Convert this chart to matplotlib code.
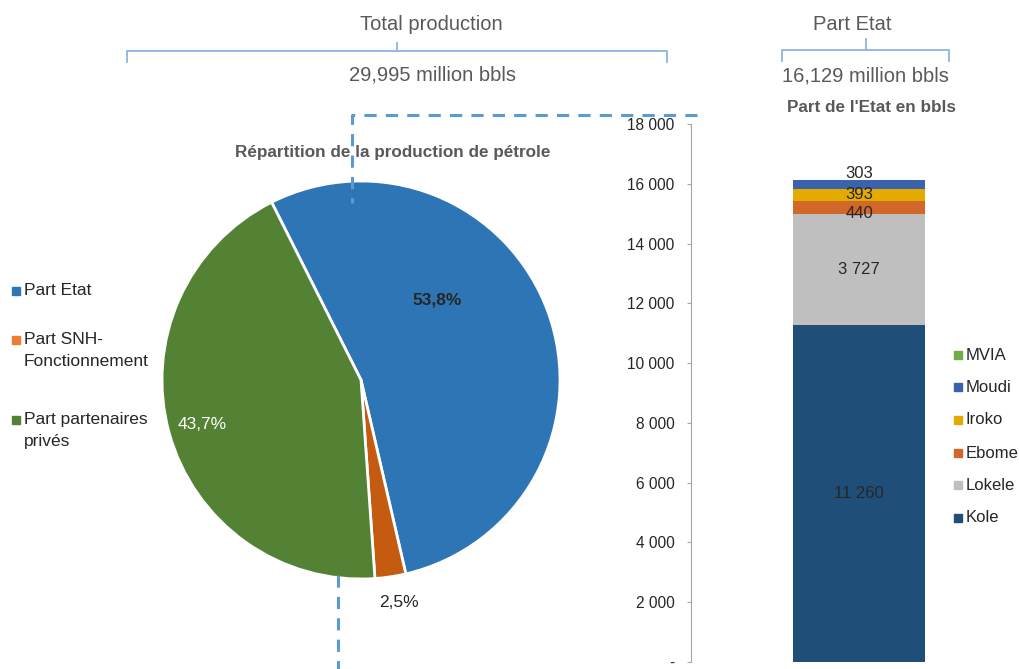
import numpy as np
import matplotlib.pyplot as plt

plt.rcParams['font.family'] = ['Liberation Sans', 'DejaVu Sans']

# Pie: répartition de la production (%)
pie_labels = ['Part Etat', 'Part SNH-\nFonctionnement', 'Part partenaires\nprivés']
pie_shares = [53.8, 2.5, 43.7]
pie_colors = ['#2E75B6', '#C55A11', '#548235']
pie_legend_colors = ['#2E75B6', '#ED7D31', '#548235']

# Stacked bar: part de l'Etat par champ (bbls)
fields = ['Kole', 'Lokele', 'Ebome', 'Iroko', 'Moudi', 'MVIA']
field_bbls = [11260, 3727, 440, 393, 303, 6]
field_colors = ['#1F4E79', '#BFBFBF', '#D2672A', '#E3AA00', '#3A63AE', '#70AD47']
yticks = np.arange(0, 18001, 2000)

W, H = 1020, 669
fig = plt.figure(figsize=(W / 100, H / 100), dpi=100)


def px_axes(x0, y0, x1, y1, **kw):
    return fig.add_axes([x0 / W, 1 - y1 / H, (x1 - x0) / W, (y1 - y0) / H], **kw)


TXT = '#595959'
DARK = '#262626'

# ---- pie
ax_pie = px_axes(162, 181, 560, 579)
ax_pie.pie(pie_shares, colors=pie_colors, startangle=116.7, counterclock=False,
           wedgeprops=dict(edgecolor='white', linewidth=2))
ax_pie.set_xlim(-1, 1)
ax_pie.set_ylim(-1, 1)
ax_pie.set_aspect('auto')
pct = [f'{v:.1f}%'.replace('.', ',') for v in pie_shares]
ax_pie.text(0.38, 0.40, pct[0], ha='center', va='center', fontsize=12.5,
            fontweight='bold', color=DARK)
ax_pie.text(0.19, -1.12, pct[1], ha='center', va='center', fontsize=12.5, color=DARK)
ax_pie.text(-0.80, -0.226, pct[2], ha='center', va='center', fontsize=12.5, color='white')

# ---- stacked bar
ax_bar = px_axes(691, 124, 940, 662)
bottom = 0
label_shift = {'Ebome': -210, 'Iroko': 10, 'Moudi': 360}
for name, val, col in zip(fields, field_bbls, field_colors):
    ax_bar.bar(0.675, val, width=0.53, bottom=bottom, color=col)
    if val > 100:
        ax_bar.text(0.675, bottom + val / 2 + label_shift.get(name, 0),
                    f'{val:,}'.replace(',', ' '), ha='center', va='center',
                    fontsize=12, color=DARK)
    bottom += val
ax_bar.set_xlim(0, 1)
ax_bar.set_ylim(0, 18000)
ax_bar.set_yticks(yticks)
ax_bar.set_yticklabels(['-' if t == 0 else f'{t:,}'.replace(',', ' ') for t in yticks])
ax_bar.set_xticks([])
for s in ['top', 'right', 'bottom']:
    ax_bar.spines[s].set_visible(False)
ax_bar.spines['left'].set_color('#A6A6A6')
ax_bar.tick_params(axis='y', direction='out', length=3, color='#A6A6A6',
                   labelsize=11.2, labelcolor=DARK, pad=9)
ax_bar.patch.set_alpha(0)

# ---- overlay for annotations
ov = fig.add_axes([0, 0, 1, 1], zorder=5)
ov.set_xlim(0, W)
ov.set_ylim(H, 0)
ov.axis('off')
ov.patch.set_alpha(0)

BR = '#8DB4E2'


def brace(x0, x1, xm, y, top):
    ov.plot([x0, x0, x1, x1], [y + 11, y, y, y + 11], color=BR, lw=1.3,
            solid_joinstyle='round')
    ov.plot([xm, xm], [y, top], color=BR, lw=1.3)


brace(127, 667, 397, 51, 43)
ov.text(431, 24, 'Total production', ha='center', va='center', fontsize=14.5, color=TXT)
ov.text(433, 75, '29,995 million bbls', ha='center', va='center', fontsize=14.5, color=TXT)
brace(782, 949, 866, 50, 39)
ov.text(852, 24, 'Part Etat', ha='center', va='center', fontsize=14.5, color=TXT)
ov.text(865, 76, '16,129 million bbls', ha='center', va='center', fontsize=14.5, color=TXT)
ov.text(872, 107, "Part de l'Etat en bbls", ha='center', va='center', fontsize=12.3,
        fontweight='bold', color=TXT)
ov.text(393, 152, 'Répartition de la production de pétrole', ha='center', va='center',
        fontsize=12.3, fontweight='bold', color=TXT)

DASH = '#5B9BD5'
ov.plot([697, 352, 352], [115, 115, 203], color=DASH, lw=2.2, ls=(0, (4, 3)))
ov.plot([338, 338], [575, 669], color=DASH, lw=2.2, ls=(0, (4, 3)))

# left legend
for lab, col, y in zip(pie_labels, pie_legend_colors, [291, 340, 420]):
    ov.plot(16, y, marker='s', ms=5.5, color=col, mec=col)
    ov.text(24, y - 8, lab, ha='left', va='top', fontsize=12.5, color=DARK,
            linespacing=1.6)

# right legend
for lab, col, y in zip(fields, field_colors, [518, 485, 453, 420, 387, 355]):
    ov.plot(958, y, marker='s', ms=5.5, color=col, mec=col)
    ov.text(966, y, lab, ha='left', va='center', fontsize=12, color=DARK)

fig.savefig('out.png', dpi=100)
